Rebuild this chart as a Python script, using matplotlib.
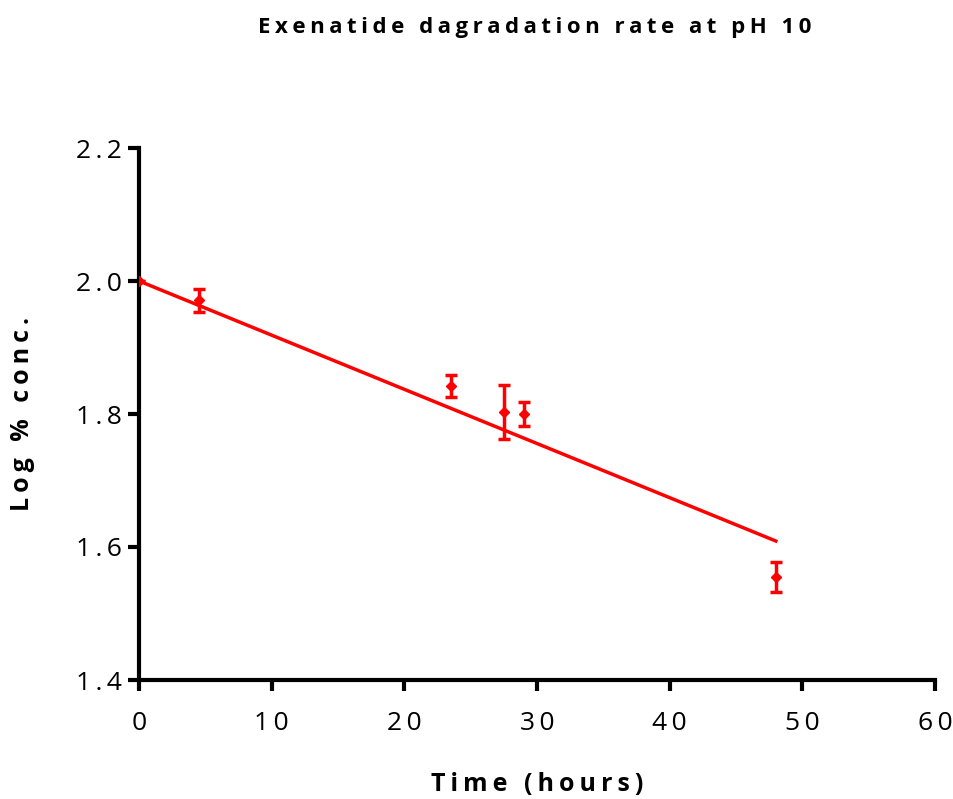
import matplotlib
matplotlib.use("Agg")
import matplotlib.pyplot as plt
import numpy as np

time_h = [0, 4.5, 23.5, 27.5, 29, 48]
log_conc = [2.0, 1.971, 1.842, 1.803, 1.800, 1.555]
err = [0.0, 0.017, 0.017, 0.040, 0.018, 0.022]
fit_x = [0, 48]
fit_y = [2.0, 1.609]
x_ticks = [0, 10, 20, 30, 40, 50, 60]
y_ticks = [1.4, 1.6, 1.8, 2.0, 2.2]

plt.rcParams['font.family'] = ['Open Sans', 'DejaVu Sans']

SP = '\u2009'
def spaced(s):
    return SP.join(list(s))

fig = plt.figure(figsize=(9.54, 7.99), dpi=100)
ax = fig.add_axes([139/954, 1-680/799, (935-139)/954, (680-148)/799])

ax.plot(fit_x, fit_y, color='#ff0000', lw=2.5, zorder=2)
ax.errorbar(time_h, log_conc, yerr=err, fmt='D', color='#ff0000', ms=5.5,
            elinewidth=2.5, capsize=4, capthick=2.5, zorder=3)

ax.set_xlim(0, 60)
ax.set_ylim(1.4, 2.2)
ax.set_xticks(x_ticks)
ax.set_xticklabels([spaced(str(v)) for v in x_ticks])
ax.set_yticks(y_ticks)
ax.set_yticklabels([spaced(f'{v:.1f}') for v in y_ticks])
for s in ['top', 'right']:
    ax.spines[s].set_visible(False)
for s in ['left', 'bottom']:
    ax.spines[s].set_linewidth(3)
ax.tick_params(axis='both', direction='out', length=8, width=3, labelsize=19)
ax.tick_params(axis='x', pad=14)
ax.tick_params(axis='y', pad=4)

ax.set_xlabel(spaced('Time (hours)'), fontsize=18, fontweight='bold', labelpad=26)
ax.set_ylabel(spaced('Log % conc.'), fontsize=18, fontweight='bold', labelpad=30)
fig.text(535/954, 1-28/799, spaced('Exenatide dagradation rate at pH 10'), fontsize=16,
         fontweight='bold', ha='center', va='center')

fig.savefig('out.png', dpi=100)
